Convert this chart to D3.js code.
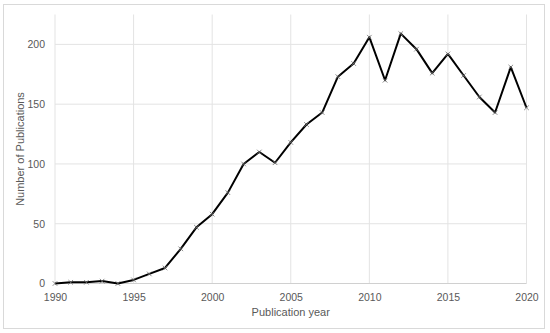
<!DOCTYPE html>
<html>
<head>
<meta charset="utf-8">
<script src="https://cdn.jsdelivr.net/npm/d3@7"></script>
<style>
  body { margin: 0; background: #fff; }
  svg text { font-family: "Liberation Sans", Arial, sans-serif; fill: #595959; }
</style>
</head>
<body>
<div id="chart"></div>
<script>
const years = d3.range(1990, 2021);
const publications = [0, 1, 1, 2, 0, 3, 8, 13, 29, 47, 58, 76, 100, 110, 101,
  118, 133, 143, 173, 184, 206, 170, 209, 196, 176, 192, 174, 156, 143, 181, 147];
const xTicks = [1990, 1995, 2000, 2005, 2010, 2015, 2020];
const yTicks = [0, 50, 100, 150, 200];

const width = 550, height = 333;
const margin = { top: 15, right: 23, bottom: 50, left: 55 };

const svg = d3.select('#chart').append('svg')
  .attr('width', width)
  .attr('height', height);

svg.append('rect')
  .attr('x', 3.5).attr('y', 4.5)
  .attr('width', 541).attr('height', 324)
  .style('fill', '#fff')
  .style('stroke', '#d9d9d9')
  .style('stroke-width', 1);

const x = d3.scaleLinear().domain([1990, 2020]).range([margin.left, width - margin.right - 0.5]);
const y = d3.scaleLinear().domain([0, 225]).range([283.5, 14.5]);

const g = svg.append('g');

// grid
g.selectAll('.vgrid').data(xTicks).join('line')
  .attr('x1', d => x(d)).attr('x2', d => x(d))
  .attr('y1', y(225)).attr('y2', y(0))
  .style('stroke', '#e3e3e3').style('stroke-width', 1);
g.selectAll('.hgrid').data(yTicks.slice(1)).join('line')
  .attr('x1', x(1990)).attr('x2', x(2020))
  .attr('y1', d => y(d)).attr('y2', d => y(d))
  .style('stroke', '#e3e3e3').style('stroke-width', 1);
g.append('line')
  .attr('x1', x(1990)).attr('x2', x(2020))
  .attr('y1', y(0)).attr('y2', y(0))
  .style('stroke', '#d0d0d0');

// axes
const xAxis = d3.axisBottom(x).tickValues(xTicks).tickFormat(d3.format('d')).tickSize(0).tickPadding(10);
svg.append('g').attr('transform', `translate(0,${y(0)})`).call(xAxis)
  .call(a => a.select('.domain').remove())
  .selectAll('text').style('font-size', '10.5px').style('fill', '#595959');

const yAxis = d3.axisLeft(y).tickValues(yTicks).tickSize(0).tickPadding(10);
svg.append('g').attr('transform', `translate(${x(1990)},0)`).call(yAxis)
  .call(a => a.select('.domain').remove())
  .selectAll('text').style('font-size', '10.5px').style('fill', '#595959');

// line
const line = d3.line().x((d, i) => x(years[i])).y(d => y(d));
g.append('path').datum(publications)
  .attr('d', line)
  .style('fill', 'none')
  .style('stroke', '#000')
  .style('stroke-width', 2)
  .style('stroke-linejoin', 'round');

// markers
const s = 2.3;
g.selectAll('.mark').data(publications).join('path')
  .attr('d', (d, i) => {
    const cx = x(years[i]), cy = y(d);
    return `M${cx - s},${cy - s}L${cx + s},${cy + s}M${cx - s},${cy + s}L${cx + s},${cy - s}`;
  })
  .style('stroke', '#6e6e6e')
  .style('stroke-width', 0.8);

// titles
svg.append('text')
  .attr('x', (x(1990) + x(2020)) / 2).attr('y', 316)
  .attr('text-anchor', 'middle')
  .style('font-size', '11px')
  .text('Publication year');

svg.append('text')
  .attr('transform', 'translate(24,149) rotate(-90)')
  .attr('text-anchor', 'middle')
  .style('font-size', '11px')
  .text('Number of Publications');
</script>
</body>
</html>
